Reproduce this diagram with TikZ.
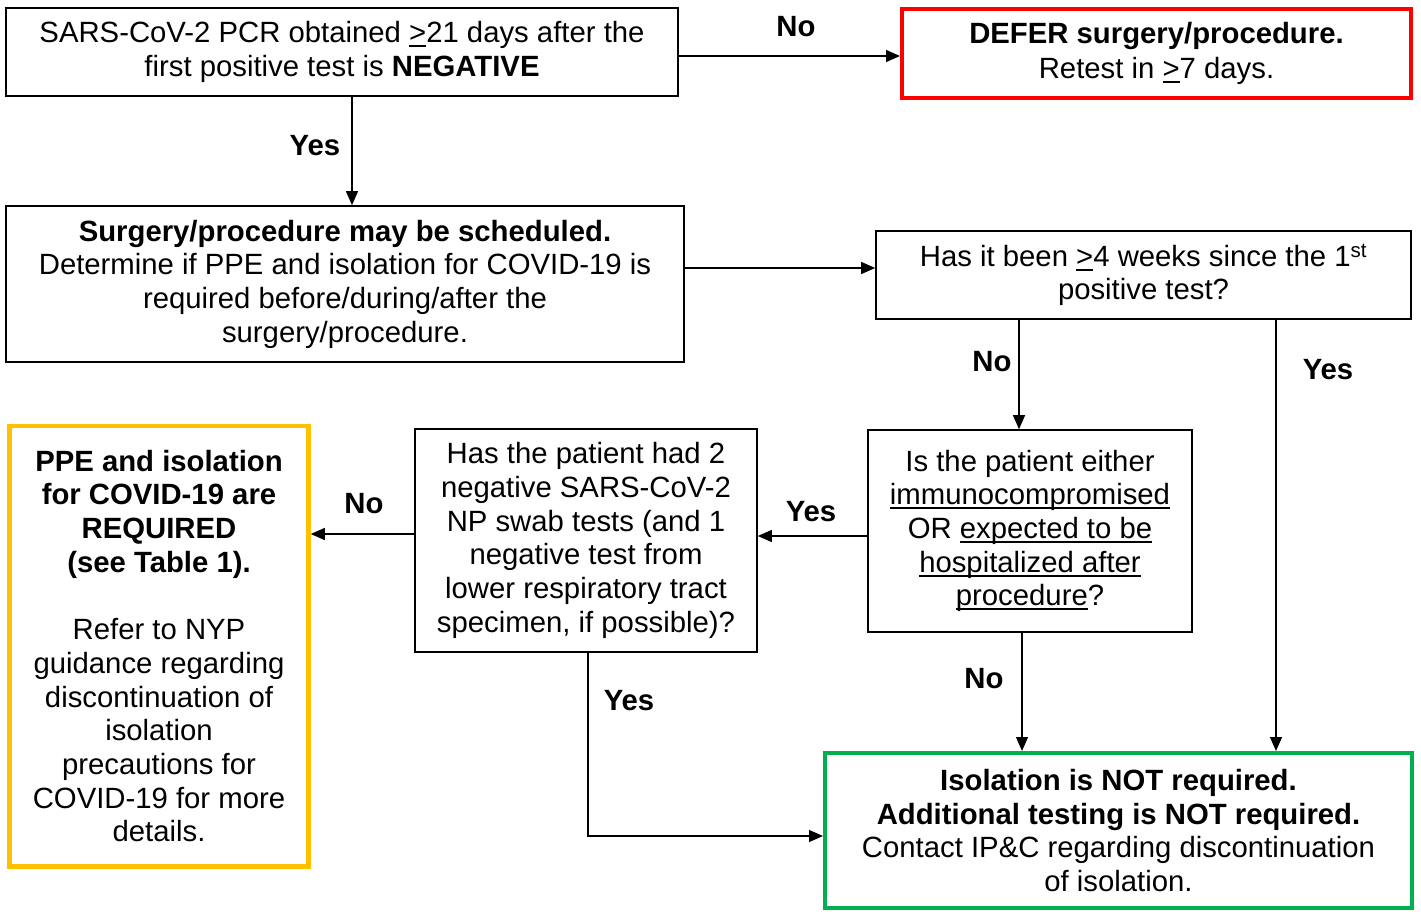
\documentclass[tikz,border=0pt]{standalone}
\usepackage{fontspec}
\setmainfont{Liberation Sans}
\usetikzlibrary{arrows.meta}
\definecolor{defred}{RGB}{255,0,0}
\definecolor{reqyellow}{RGB}{255,192,0}
\definecolor{okgreen}{RGB}{0,176,80}
\newcommand{\wul}[1]{\setbox0=\hbox{#1}\rlap{\rule[-4.5pt]{\wd0}{2pt}}\box0\relax}
\newcommand{\ulgt}{\wul{>}}
\begin{document}
\begin{tikzpicture}[x=1pt,y=-1pt,
  box/.style={draw, line width=1.6pt, align=center, inner sep=0pt,
    font=\fontsize{29.3}{33.7}\selectfont},
  arr/.style={-{Triangle[length=14pt,width=12pt]}, line width=1.2pt},
  lab/.style={font=\fontsize{29.3}{32}\selectfont\bfseries, inner sep=0pt}]
\useasboundingbox (0,0) rectangle (1421,911);

\node[box, minimum width=672pt, minimum height=88pt] (a) at (342,52)
  {SARS-CoV-2 PCR obtained \ulgt{}21 days after the\\
   first positive test is \textbf{NEGATIVE}};
\node[box, draw=defred, line width=4pt, minimum width=509pt, minimum height=89pt,
  font=\fontsize{29.3}{35}\selectfont] (defer) at (1156.5,53.5)
  {\textbf{DEFER surgery/procedure.}\\ Retest in \ulgt{}7 days.};
\node[box, minimum width=678pt, minimum height=156pt] (b) at (345,284)
  {\textbf{Surgery/procedure may be scheduled.}\\
   Determine if PPE and isolation for COVID-19 is\\
   required before/during/after the\\
   surgery/procedure.};
\node[box, minimum width=535pt, minimum height=88pt] (c) at (1143.5,275)
  {Has it been \ulgt{}4 weeks since the 1\textsuperscript{st}\\ positive test?};
\node[box, minimum width=324pt, minimum height=202pt] (d) at (1030,531)
  {Is the patient either\\
   \wul{immunocompromised}\\
   OR \wul{expected to be}\\
   \wul{hospitalized after}\\
   \wul{procedure}?};
\node[box, minimum width=342pt, minimum height=223pt] (e) at (586,540.5)
  {Has the patient had 2\\
   negative SARS-CoV-2\\
   NP swab tests (and 1\\
   negative test from\\
   lower respiratory tract\\
   specimen, if possible)?};
\node[box, draw=reqyellow, line width=4.5pt, minimum width=299pt, minimum height=440.5pt] (y) at (159,646)
  {\textbf{PPE and isolation}\\
   \textbf{for COVID-19 are}\\
   \textbf{REQUIRED}\\
   \textbf{(see Table 1).}\\[33.7pt]
   Refer to NYP\\
   guidance regarding\\
   discontinuation of\\
   isolation\\
   precautions for\\
   COVID-19 for more\\
   details.};
\draw[reqyellow, line width=1pt] ([shift={(4pt,-4pt)}]y.north west) rectangle ([shift={(-4pt,4pt)}]y.south east);
\node[box, draw=okgreen, line width=4pt, minimum width=587pt, minimum height=155pt] (g) at (1118.5,830.5)
  {\textbf{Isolation is NOT required.}\\
   \textbf{Additional testing is NOT required.}\\
   Contact IP\&C regarding discontinuation\\
   of isolation.};

% connectors
\draw[arr] ([yshift=-4pt]a.east) -- ([yshift=-4pt]a.east -| defer.west);
\draw[arr] ([xshift=10pt]a.south) -- ([xshift=10pt]a.south |- b.north);
\draw[arr] ([yshift=7pt]c.west -| b.east) -- ([yshift=7pt]c.west);
\draw[arr] ([xshift=-11pt]d.north |- c.south) -- ([xshift=-11pt]d.north);
\draw[arr] (c.south -| 1276,0) -- (g.north -| 1276,0);
\draw[arr] (d.west |- 0,536) -- (e.east |- 0,536);
\draw[arr] (d.south -| 1022,0) -- (g.north -| 1022,0);
\draw[arr] (e.west |- 0,534) -- (y.east |- 0,534);
\draw[arr] (e.south -| 588,0) -- (588,836) -- (g.west |- 0,836);

% labels
\node[lab] (l1) at (796,27) {No};
\node[lab] (l2) at (315,146) {Yes};
\node[lab] (l3) at (992,362) {No};
\node[lab] (l4) at (1328,370) {Yes};
\node[lab] (l5) at (811,512) {Yes};
\node[lab] (l6) at (984,679) {No};
\node[lab] (l7) at (364,504) {No};
\node[lab] (l8) at (629,701) {Yes};
\end{tikzpicture}
\end{document}
